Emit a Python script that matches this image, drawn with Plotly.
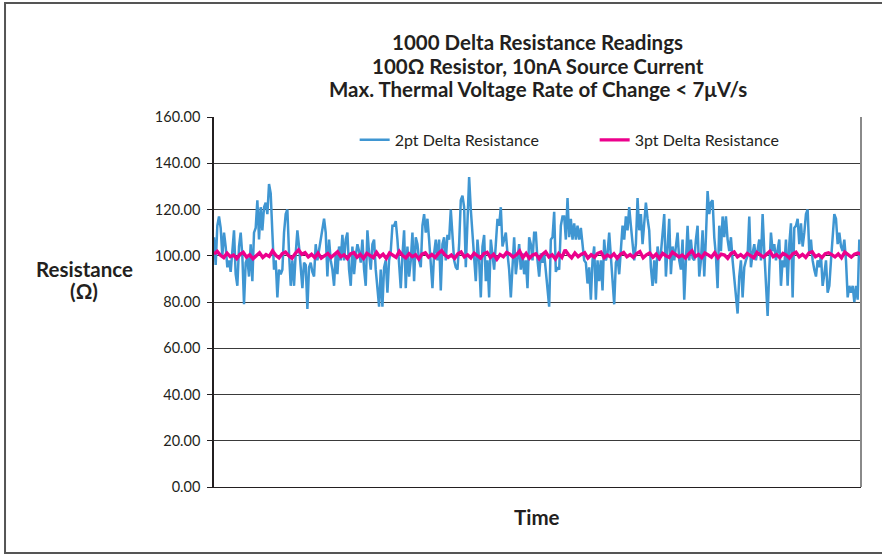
import numpy as np
import plotly.graph_objects as go

# 2pt Delta Resistance readings (Ohm) left to right
blue_2pt = [
    108, 96, 113, 117, 112, 100, 110, 104, 95, 98, 93, 101, 111, 92, 87, 104, 110, 100, 79, 97,
    99, 91, 105, 89, 110, 112, 124, 107, 121, 111, 121, 123, 118, 131, 127, 110, 94, 98, 82, 94,
    92, 94, 110, 118, 120, 101, 87, 98, 87, 101, 111, 104, 95, 86, 97, 96, 77, 95, 97, 93,
    91, 105, 98, 103, 108, 113, 116, 110, 91, 107, 98, 94, 87, 101, 92, 104, 98, 109, 98, 107,
    110, 94, 87, 104, 92, 100, 105, 102, 97, 107, 94, 87, 111, 101, 94, 105, 107, 94, 85, 78,
    94,
    # segment 2
    78, 95, 98, 84, 98, 102, 113, 113, 115, 107, 98, 86, 100, 111, 86, 104, 91, 98, 110, 89,
    108, 105, 98, 95, 113, 118, 110, 116, 107, 98, 86, 101, 107, 98, 107, 85, 105, 108, 98, 109,
    107, 120, 108, 98, 95, 94, 105, 124, 126, 121, 95, 113, 134, 120, 110, 101, 89, 107, 98, 82,
    104, 109, 89, 98, 82, 107, 100, 94, 105, 116, 113, 121, 104, 107, 110, 101, 94, 82, 97, 108,
    92, 98, 105, 94, 101, 92, 98, 86, 108, 105, 98, 110, 110, 98, 91, 101,
    # segment 3
    97, 101, 94, 84, 78, 107, 108, 119, 93, 95, 94, 113, 117, 117, 107, 125, 108, 116, 107, 114,
    107, 113, 107, 112, 105, 98, 97, 88, 95, 81, 98, 104, 81, 98, 89, 98, 85, 107, 98, 101,
    110, 98, 89, 79, 97, 99, 92, 101, 113, 107, 117, 111, 121, 113, 104, 98, 105, 125, 111, 118,
    105, 113, 123, 116, 111, 95, 87, 98, 88, 104, 98, 101, 110, 118, 91, 107, 116, 92, 104, 98,
    105, 110, 98, 94, 107, 81, 98, 113, 98, 107, 99, 98, 107, 113, 91, 98,
    # segment 4
    111, 91, 108, 128, 118, 123, 124, 108, 100, 86, 113, 102, 117, 108, 117, 107, 102, 108, 98, 91,
    84, 75, 91, 98, 82, 95, 98, 100, 117, 95, 101, 105, 98, 102, 107, 98, 118, 102, 87, 74,
    94, 110, 102, 105, 98, 102, 107, 87, 98, 95, 107, 87, 105, 114, 82, 112, 113, 116, 105, 114,
    104, 110, 118, 120, 101, 107, 98, 94, 91, 98, 95, 100, 87, 92, 98, 84, 87, 98, 107, 118,
    116, 105, 110, 104, 102, 107, 98, 82, 87, 84, 87, 80, 87, 81, 107, 98,
]

# 3pt Delta Resistance readings (Ohm)
pink_3pt = [
    100.8, 101.9, 100.2, 99.2, 101.1, 99.6, 100.3, 98.8, 100.6, 101.5,
    99.4, 100.4, 98.7, 100.1, 101.3, 99.3, 100.5, 99.7, 102.1, 100.2,
    99.1, 100.9, 101.6, 100.0, 98.9, 101.0, 102.5, 100.6, 101.3, 99.5,
    100.6, 99.2, 101.1, 99.0, 100.1, 101.0, 99.3, 100.3, 101.7, 99.6,
    100.4, 98.8, 100.8, 101.4, 99.4, 100.6, 98.9, 101.0, 100.0, 99.2,
    101.5, 99.5, 100.7, 98.8, 101.2, 100.3, 99.3, 101.9, 100.1, 99.1,
    100.9, 99.6, 100.4, 98.6, 100.7, 101.3, 99.4, 100.5, 99.2, 101.0,
    102.2, 100.4, 99.3, 100.3, 98.9, 100.8, 101.6, 99.5, 100.4, 99.1,
    101.1, 100.0, 99.0, 100.9, 101.5, 99.3, 100.6, 98.5, 100.5, 99.6,
    101.4, 100.7, 99.4, 100.4, 102.0, 99.2, 101.0, 98.9, 100.3, 100.8,
    98.7, 100.6, 101.7, 99.5, 100.4, 98.6, 100.9, 99.3, 102.5, 100.5,
    99.1, 101.2, 99.6, 100.7, 101.3, 99.0, 100.4, 99.4, 101.0, 101.6,
    99.2, 100.3, 99.5, 100.8, 98.9, 100.6, 101.4, 99.6, 100.5, 99.3,
    100.9, 101.8, 99.1, 100.4, 101.2, 99.4, 100.7, 98.8, 101.0, 100.0,
    99.3, 101.5, 100.6, 99.5, 100.3, 99.0, 100.8, 102.1, 99.6, 100.6,
    99.2, 101.2, 100.4, 99.4, 101.3, 99.1, 100.7, 100.3, 98.9, 100.9,
    101.6, 99.5, 100.5, 99.3, 101.0, 100.0, 99.1, 101.4, 100.4, 99.4,
    100.7, 101.9, 99.6, 100.5, 99.2, 101.0, 100.3, 99.0, 100.8, 101.5,
    99.5, 100.6, 99.3, 101.2, 101.7, 99.6, 100.4, 99.2, 100.9, 101.3,
    100.5, 99.5, 100.8, 99.1, 101.6, 100.3, 99.4, 100.7, 101.2, 100.6,
]

title_lines = [
    "1000 Delta Resistance Readings",
    "100\u03a9 Resistor, 10nA Source Current",
    "Max. Thermal Voltage Rate of Change < 7\u03bcV/s",
]
y_ticks = [0, 20, 40, 60, 80, 100, 120, 140, 160]

n = len(blue_2pt)
x_blue = np.arange(n)
x_pink = np.linspace(0, n - 1, len(pink_3pt))

FONT = "Lato"
TXT = "#231F20"

fig = go.Figure()
fig.add_trace(go.Scatter(x=x_blue, y=blue_2pt, mode="lines", name="2pt Delta Resistance",
                         line=dict(color="#3F96D2", width=2.5)))
fig.add_trace(go.Scatter(x=x_pink, y=pink_3pt, mode="lines", name="3pt Delta Resistance",
                         line=dict(color="#EC008C", width=3.4)))

fig.update_layout(
    width=882, height=556,
    margin=dict(l=214, r=21, t=117, b=69),
    paper_bgcolor="white", plot_bgcolor="white",
    font=dict(family=FONT, size=14, color=TXT),
    showlegend=True,
    legend=dict(orientation="h", x=0.2174, y=0.938, xanchor="left", yanchor="middle",
                font=dict(size=16, family=FONT, color=TXT), bgcolor="rgba(0,0,0,0)",
                itemwidth=30, entrywidth=195, entrywidthmode="pixels", tracegroupgap=0),
)
fig.update_xaxes(range=[0, n - 1], showticklabels=False, showgrid=False, zeroline=False,
                 showline=True, linecolor=TXT, linewidth=1, ticks="")
fig.update_yaxes(range=[0, 160], tickvals=y_ticks, tickformat=".2f", showgrid=True,
                 gridcolor="#3A3A3A", gridwidth=1, zeroline=False, showline=True,
                 linecolor=TXT, linewidth=1.5, ticks="outside", ticklen=5,
                 tickcolor=TXT, ticklabelstandoff=4,
                 tickfont=dict(size=14.5, family=FONT, color=TXT))

# right border of the plot area
fig.add_shape(type="line", xref="paper", yref="paper", x0=1, x1=1, y0=0, y1=1,
              line=dict(color="#8A8A8A", width=2))
# outer frame
fig.add_shape(type="rect", xref="paper", yref="paper", x0=-0.3230, x1=1.04, y0=-0.1784, y1=1.308,
              line=dict(color="#555555", width=2), layer="below")

for ln, ypx in zip(title_lines, [42, 66, 89]):
    fig.add_annotation(text="<b>" + ln + "</b>", xref="paper", yref="paper", x=0.5,
                       y=(487 - ypx) / 370, showarrow=False, xanchor="center", yanchor="middle",
                       font=dict(size=20.5, family=FONT, color=TXT))

fig.add_annotation(text="<b>Resistance</b>", xref="paper", yref="paper", x=(84 - 214) / 647,
                   y=(487 - 269) / 370, showarrow=False, xanchor="center", yanchor="middle",
                   font=dict(size=20.5, family=FONT, color=TXT))
fig.add_annotation(text="<b>(\u03a9)</b>", xref="paper", yref="paper", x=(84 - 214) / 647,
                   y=(487 - 291) / 370, showarrow=False, xanchor="center", yanchor="middle",
                   font=dict(size=20.5, family=FONT, color=TXT))
fig.add_annotation(text="<b>Time</b>", xref="paper", yref="paper", x=(537 - 214) / 647,
                   y=(487 - 517) / 370, showarrow=False, xanchor="center", yanchor="middle",
                   font=dict(size=20.5, family=FONT, color=TXT))

fig.write_html("out.html", config={"displayModeBar": False},
               post_script="document.body.style.margin='0px';")
